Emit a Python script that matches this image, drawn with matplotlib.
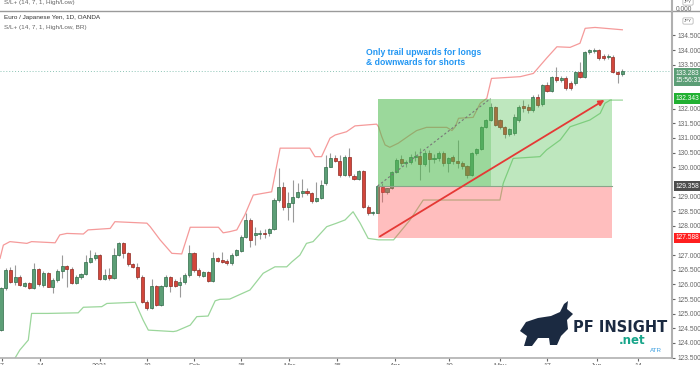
import numpy as np
import matplotlib.pyplot as plt
import matplotlib.transforms as mtransforms
from matplotlib.patches import Rectangle, Polygon
from matplotlib.lines import Line2D

plt.rcParams['font.family'] = ['Liberation Sans', 'DejaVu Sans']

# --------------------------
# DATA (EUR/JPY daily candles)
# --------------------------
opens = [124.45, 125.87, 126.49, 126.09, 126.26, 125.95, 126.04, 125.89, 126.51, 125.98,
         126.38, 125.92, 126.15, 126.47, 126.63, 126.51, 126.06, 126.24, 126.34, 126.78,
         126.91, 127.00, 126.18, 126.32, 126.23, 127.00, 127.40, 127.08, 126.70, 126.61,
         126.24, 125.41, 125.18, 125.95, 125.30, 125.95, 126.26, 126.12, 125.97, 126.07,
         126.32, 127.08, 126.49, 126.30, 126.41, 126.13, 126.89, 126.83, 126.80, 126.72,
         127.00, 127.15, 127.63, 128.20, 127.69, 127.72, 127.76, 127.74, 127.88, 128.88,
         129.31, 128.63, 128.79, 128.99, 129.11, 129.19, 129.11, 128.86, 128.94, 129.45,
         130.02, 130.30, 130.22, 129.73, 130.36, 129.70, 129.59, 129.88, 128.65, 128.43,
         128.45, 129.34, 129.17, 129.28, 129.85, 130.27, 130.13, 130.19, 130.34, 130.38,
         130.11, 130.50, 130.27, 130.30, 130.47, 130.13, 130.34, 130.21, 130.13, 130.04,
         129.73, 130.47, 130.61, 131.38, 131.61, 132.04, 131.61, 131.36, 131.13, 131.16,
         131.61, 132.10, 132.07, 131.95, 132.41, 132.15, 132.81, 132.60, 133.09, 132.98,
         133.03, 132.86, 132.86, 133.26, 133.09, 133.94, 133.98, 134.01, 133.80, 133.75,
         133.77, 133.26, 133.17]
highs = [125.90, 126.55, 126.58, 126.66, 126.32, 126.09, 126.09, 126.72, 126.55, 126.47,
         126.43, 126.21, 126.51, 127.00, 126.66, 126.58, 126.32, 126.40, 127.00, 127.17,
         127.12, 127.04, 126.51, 126.55, 127.23, 127.46, 127.46, 127.12, 126.74, 126.72,
         126.32, 125.47, 126.18, 125.98, 125.98, 126.32, 126.30, 126.17, 126.26, 126.38,
         127.34, 127.12, 126.55, 126.47, 126.47, 127.12, 126.95, 127.12, 126.86, 127.06,
         127.22, 127.68, 128.43, 128.26, 127.95, 127.85, 127.90, 127.92, 128.95, 129.96,
         129.51, 129.17, 129.56, 129.45, 129.59, 129.30, 129.17, 129.51, 129.56, 130.42,
         130.47, 130.42, 130.42, 130.42, 130.64, 129.76, 129.90, 129.92, 128.70, 128.52,
         129.40, 129.45, 129.30, 129.88, 130.30, 130.40, 130.25, 130.45, 130.55, 130.65,
         130.58, 130.60, 130.45, 130.55, 130.55, 130.36, 130.40, 130.93, 130.20, 130.08,
         130.53, 130.65, 131.42, 131.65, 132.18, 132.10, 131.65, 131.40, 131.35, 131.80,
         132.12, 132.30, 132.15, 132.45, 132.50, 132.85, 132.90, 133.12, 133.43, 133.10,
         133.10, 132.95, 133.30, 133.60, 133.98, 134.05, 134.07, 134.05, 133.85, 133.85,
         133.82, 133.30, 133.35]
lows = [124.40, 125.81, 126.04, 125.98, 125.95, 125.90, 125.83, 125.85, 125.95, 125.92,
        125.90, 125.70, 126.09, 126.21, 125.92, 126.01, 126.01, 126.20, 126.31, 126.72,
        126.83, 126.15, 126.15, 126.15, 126.20, 126.97, 126.89, 126.63, 126.55, 126.20,
        125.38, 125.13, 125.15, 125.26, 125.26, 125.90, 125.75, 125.90, 125.58, 126.01,
        126.26, 126.43, 126.26, 126.24, 126.09, 126.09, 126.76, 126.72, 126.67, 126.66,
        126.97, 127.12, 127.60, 127.29, 127.35, 127.55, 127.60, 127.65, 127.85, 128.82,
        128.54, 128.20, 128.14, 128.94, 128.99, 129.05, 128.79, 128.82, 128.90, 129.39,
        130.00, 130.18, 129.68, 129.70, 129.68, 129.55, 129.55, 128.60, 128.38, 128.38,
        128.43, 128.82, 129.10, 129.25, 129.80, 130.05, 130.00, 130.12, 130.20, 129.56,
        130.05, 129.85, 130.15, 130.20, 130.05, 129.85, 130.10, 129.96, 129.95, 129.62,
        129.70, 130.40, 130.58, 131.35, 131.58, 131.40, 131.30, 131.00, 131.05, 131.10,
        131.55, 131.90, 131.85, 131.90, 132.05, 132.10, 132.55, 132.55, 132.90, 132.90,
        132.65, 132.65, 132.80, 133.05, 133.05, 133.85, 133.90, 133.65, 133.65, 133.70,
        133.20, 132.86, 133.10]
closes = [125.87, 126.49, 126.09, 126.26, 125.98, 126.04, 125.87, 126.51, 126.00, 126.38,
          125.92, 126.15, 126.47, 126.63, 126.51, 126.06, 126.24, 126.34, 126.78, 126.91,
          127.00, 126.18, 126.32, 126.23, 127.00, 127.40, 127.08, 126.70, 126.61, 126.24,
          125.41, 125.18, 125.95, 125.30, 125.95, 126.26, 125.95, 125.95, 126.07, 126.32,
          127.08, 126.49, 126.32, 126.41, 126.13, 126.89, 126.81, 126.76, 126.72, 127.00,
          127.17, 127.63, 128.20, 127.52, 127.74, 127.76, 127.72, 127.88, 128.88, 129.31,
          128.63, 128.79, 128.99, 129.17, 129.19, 129.11, 128.86, 128.94, 129.39, 130.02,
          130.30, 130.22, 129.73, 130.36, 129.73, 129.59, 129.88, 128.65, 128.43, 128.48,
          129.36, 129.17, 129.28, 129.85, 130.25, 130.13, 130.19, 130.36, 130.38, 130.11,
          130.50, 130.27, 130.30, 130.47, 130.13, 130.30, 130.21, 130.13, 130.04, 129.73,
          130.47, 130.61, 131.38, 131.61, 132.04, 131.44, 131.36, 131.13, 131.30, 131.72,
          132.07, 132.01, 131.95, 132.41, 132.12, 132.81, 132.60, 133.09, 132.98, 133.03,
          132.69, 132.72, 133.26, 133.09, 133.94, 134.00, 134.01, 133.72, 133.72, 133.80,
          133.26, 133.17, 133.28]

# S/L+ bands: vertices (bar index, price)
upper_x = [-0.2, 0.5, 1.9, 5.5, 6.5, 11.5, 12.5, 14.0, 17.5, 18.5, 23.2, 24.2, 31.0, 31.7,
           33.8, 36.3, 38.4, 40.2, 46.2, 47.2, 48.6, 50.1, 51.8, 53.6, 57.5, 59.3, 65.6,
           66.7, 68.1, 69.9, 71.0, 73.4, 75.2, 79.8, 80.2, 80.9, 81.6, 82.6, 84.4, 86.9,
           88.3, 90.4, 94.7, 95.8, 96.5, 97.2, 100.3, 101.8, 103.2, 104.2, 110.3, 113.1,
           115.9, 118.1, 120.9, 123.0, 124.1, 126.2, 132.0]
upper_y = [126.89, 127.34, 127.46, 127.40, 127.46, 127.42, 127.69, 127.74, 127.72, 127.86,
           127.91, 128.14, 128.09, 127.97, 127.52, 127.06, 127.04, 127.95, 127.95, 127.76,
           127.80, 127.86, 128.37, 129.05, 129.16, 130.65, 130.65, 130.36, 130.36, 130.99,
           131.10, 131.21, 131.41, 131.47, 131.38, 131.04, 130.76, 130.68, 130.82, 131.10,
           131.25, 131.36, 131.36, 131.25, 131.38, 131.67, 131.70, 132.18, 132.35, 133.03,
           133.09, 133.20, 133.72, 134.11, 134.09, 134.23, 134.74, 134.77, 134.69]
lower_x = [2.3, 3.0, 4.0, 5.8, 6.5, 10.0, 16.4, 17.5, 21.4, 22.5, 28.5, 30.2, 31.3, 36.6,
           37.3, 40.2, 41.6, 44.0, 45.5, 46.5, 48.6, 52.9, 55.7, 58.2, 60.7, 61.8, 63.5,
           64.9, 66.3, 69.2, 71.3, 73.1, 74.8, 76.3, 78.0, 80.2, 83.4, 86.9, 89.7, 106.0,
           106.7, 108.8, 114.5, 115.9, 118.8, 120.9, 125.1, 127.3, 128.3, 129.4, 132.0]
lower_y = [123.30, 123.49, 123.76, 124.10, 125.01, 125.01, 125.03, 125.22, 125.24, 125.35,
           125.39, 124.78, 124.44, 124.39, 124.41, 124.61, 124.90, 124.92, 125.44, 125.49,
           125.50, 125.81, 126.38, 126.60, 126.60, 126.77, 127.00, 127.40, 127.46, 127.97,
           128.09, 128.20, 128.48, 128.09, 127.57, 127.52, 127.52, 128.20, 128.88, 128.88,
           129.45, 130.30, 130.36, 130.59, 130.93, 131.38, 131.61, 131.84, 132.18, 132.29,
           132.29]

# long position tool
entry_price = 129.358
target_price = 132.343
stop_price = 127.588
last_price = 133.283
pos_start, pos_mid, pos_end = 80, 104, 129.8

# axis labels
price_ticks = [123.5, 124.0, 124.5, 125.0, 125.5, 126.0, 126.5, 127.0, 128.0, 128.5,
               129.0, 130.0, 130.5, 131.0, 131.5, 132.0, 133.5, 134.0, 134.5]
date_pos = [0.2, 8.3, 21.0, 31.0, 41.0, 51.0, 61.2, 71.4, 83.7, 95.2, 106.0, 116.0, 126.6, 135.3]
date_labels = ['7', '14', '2021', '18', 'Feb', '15', 'Mar', '15', 'Apr', '19', 'May', '17', 'Jun', '14']

# --------------------------
# FIGURE
# --------------------------
W, H = 700, 365
fig = plt.figure(figsize=(7, 3.65), dpi=100)
fig.patch.set_facecolor('white')
ax = fig.add_axes([0, 7 / H, 672 / W, 346 / H])
ax.set_xlim(-0.21, 142.55)
ax.set_ylim(123.488, 135.297)

def fx(x):
    return x / W

def fy(y):
    return 1 - y / H

# candles
o = np.array(opens)
c = np.array(closes)
idx = np.arange(len(o))
rising = c >= o
face = np.where(rising, '#5c9e76', '#d2463b')
edge = np.where(rising, '#2f6b48', '#8e2a22')
ax.vlines(idx, lows, highs, color='#9a9a9a', lw=0.8, zorder=2)
ax.bar(idx, np.maximum(np.abs(c - o), 0.025), bottom=np.minimum(o, c), width=0.66,
       color=face, edgecolor=edge, linewidth=0.5, zorder=3)

# bands
ax.plot(upper_x, upper_y, color='#f59a9a', lw=0.9, zorder=2.5)
ax.plot(lower_x, lower_y, color='#9bd69b', lw=0.9, zorder=2.5)

# current price line
ax.axhline(last_price, color='#8cc4b6', ls=(0, (1, 2)), lw=0.7, zorder=1)

# position boxes
ax.add_patch(Rectangle((pos_start, entry_price), pos_end - pos_start, target_price - entry_price,
                       facecolor=(0.3, 0.75, 0.3, 0.36), edgecolor='none', zorder=4))
ax.add_patch(Rectangle((pos_start, entry_price), pos_mid - pos_start, target_price - entry_price,
                       facecolor=(0.3, 0.72, 0.3, 0.30), edgecolor='none', zorder=4))
ax.add_patch(Rectangle((pos_start, stop_price), pos_end - pos_start, entry_price - stop_price,
                       facecolor=(1.0, 0.3, 0.3, 0.36), edgecolor='none', zorder=4))
ax.plot([pos_start, pos_end], [entry_price, entry_price], color='#8aa58a', lw=0.8, zorder=4.5)
ax.plot([pos_start, pos_mid], [entry_price, target_price], color='#777777', lw=0.8,
        ls=(0, (2, 2)), zorder=4.5)
ax.annotate('', xy=(128.7, target_price), xytext=(pos_start, stop_price),
            arrowprops=dict(arrowstyle='-|>', color='#e53935', lw=1.3, mutation_scale=8),
            zorder=5)

# text note
ax.text(77.5, 134.08, 'Only trail upwards for longs\n& downwards for shorts', color='#2196f3',
        fontsize=6.2, fontweight='bold', va='top', ha='left', linespacing=1.15, zorder=6)

# axes styling
for s in ['top', 'left']:
    ax.spines[s].set_visible(False)
ax.spines['right'].set_color('#b0b0b0')
ax.spines['right'].set_linewidth(1.5)
ax.spines['bottom'].set_color('#b0b0b0')
ax.spines['bottom'].set_linewidth(1.2)
ax.yaxis.tick_right()
ax.set_yticks(price_ticks)
ax.set_yticklabels(['%.3f' % p for p in price_ticks])
ax.tick_params(axis='y', length=2, pad=2, labelsize=4.8, colors='#666666')
ax.set_xticks(date_pos)
ax.set_xticklabels(date_labels)
ax.tick_params(axis='x', length=2, pad=1.5, labelsize=5, colors='#666666')

# price tags on the scale
blend = mtransforms.blended_transform_factory(ax.transAxes, ax.transData)
tags = [(last_price - 0.21, '133.283\n15:56:31', '#5c9e76'),
        (target_price, '132.343', '#21b032'),
        (entry_price, '129.358', '#4d4d4d'),
        (stop_price, '127.588', '#ff1f1f')]
for y, label, col in tags:
    ax.text(1.005, y, label, transform=blend, fontsize=4.8, color='white', ha='left',
            va='center', linespacing=1.1, clip_on=False, zorder=10,
            bbox=dict(boxstyle='square,pad=0.25', facecolor=col, edgecolor='none'))

# legend lines
fig.text(fx(4), fy(17), 'Euro / Japanese Yen, 1D, OANDA', fontsize=4.6, color='#333333',
         va='center', ha='left')
fig.text(fx(4), fy(27), 'S/L+ (14, 7, 1, High/Low, BR)', fontsize=4.6, color='#666666',
         va='center', ha='left')

# upper pane remnant
fig.add_artist(Line2D([0, 1], [fy(11), fy(11)], color='#9a9a9a', lw=1.0))
fig.add_artist(Line2D([fx(672), fx(672)], [fy(0), fy(11)], color='#b0b0b0', lw=1.5))
fig.text(fx(4), fy(2.5), 'S/L+ (14, 7, 1, High/Low)', fontsize=4.6, color='#666666',
         va='center', ha='left')
fig.text(fx(676), fy(9.5), '0.000', fontsize=4.8, color='#666666', va='center', ha='left')
for yy in [2, 21]:
    fig.text(fx(688), fy(yy), 'JPY', fontsize=3.2, color='#555555', va='center', ha='center',
             bbox=dict(boxstyle='round,pad=0.25', facecolor='white', edgecolor='#aaaaaa', lw=0.5))

# watermark logo
bull = [(520, 331), (526, 322), (538, 318), (551, 316), (560, 312), (564, 304), (568, 301),
        (567, 309), (573, 314), (567, 320), (568, 329), (561, 336), (557, 345), (550, 345),
        (549, 338), (538, 338), (532, 346), (524, 346), (527, 336)]
fig.add_artist(Polygon([(fx(x), fy(y)) for x, y in bull], closed=True,
                       facecolor='#1b2a41', edgecolor='none'))
fig.text(fx(573), fy(327), 'PF INSIGHT', fontsize=10.5, fontweight='bold', color='#1b2a41',
         va='center', ha='left', family='DejaVu Sans')
fig.text(fx(619), fy(341), '.net', fontsize=8.5, fontweight='bold', color='#17a58a',
         va='center', ha='left', family='DejaVu Sans')
fig.text(fx(650), fy(350), 'ATR', fontsize=4.5, color='#3fa0e0', va='center', ha='left')

fig.savefig('out.png', dpi=100)
